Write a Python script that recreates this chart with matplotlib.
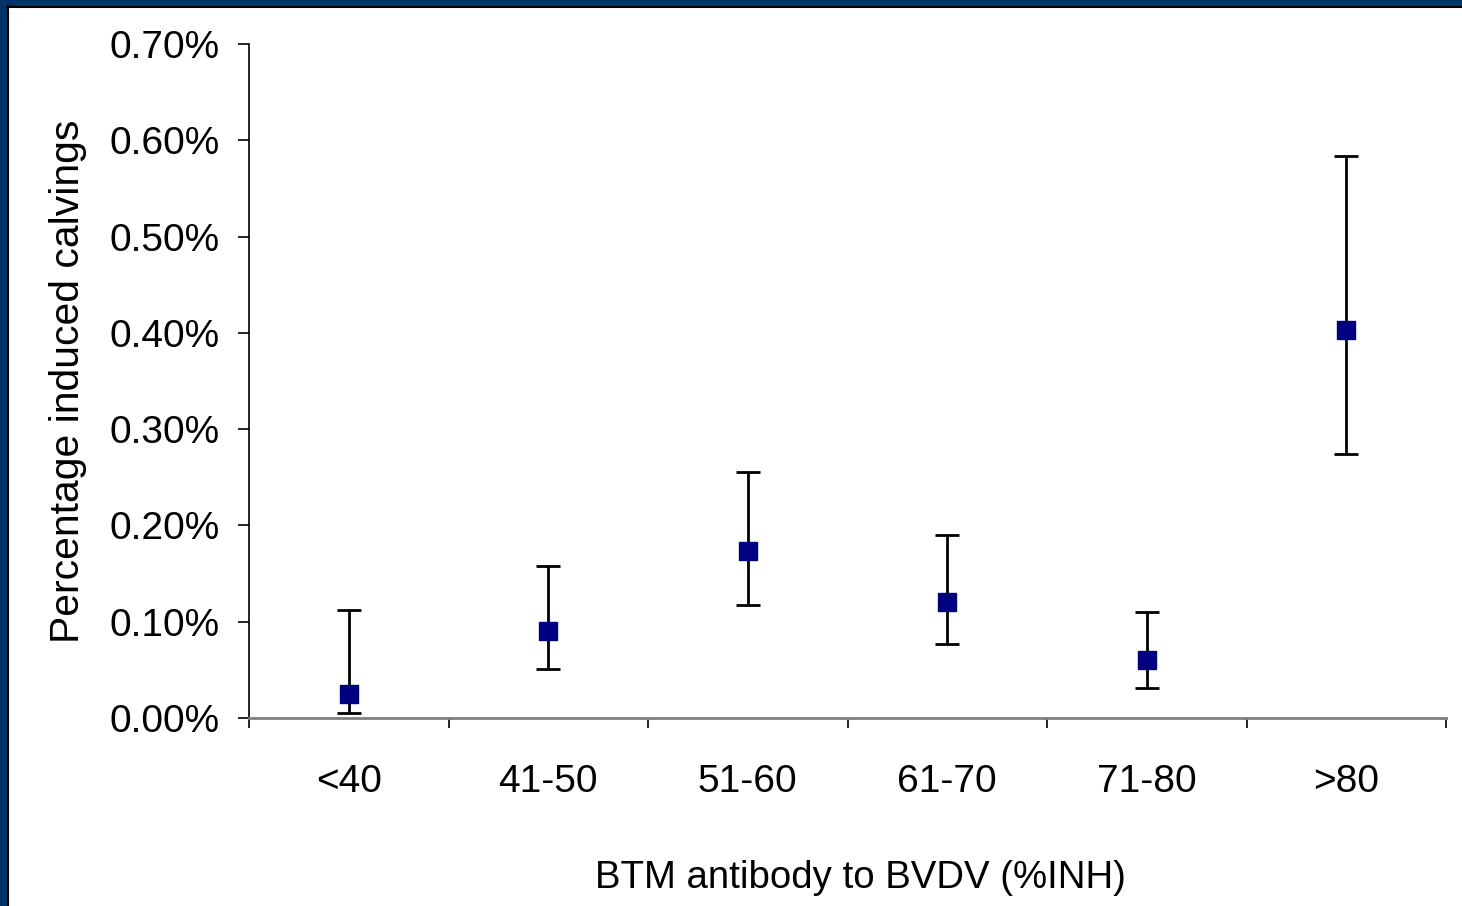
import matplotlib
matplotlib.use("Agg")
import matplotlib.pyplot as plt
from matplotlib.ticker import FuncFormatter
from matplotlib.patches import Rectangle

plt.rcParams['font.family'] = ['Liberation Sans', 'DejaVu Sans']

categories = ['<40', '41-50', '51-60', '61-70', '71-80', '>80']
pct = [0.025, 0.090, 0.173, 0.120, 0.060, 0.403]
upper = [0.112, 0.158, 0.256, 0.190, 0.110, 0.584]
lower = [0.005, 0.051, 0.117, 0.077, 0.031, 0.274]

fig = plt.figure(figsize=(14.62, 9.06), dpi=100)
# dark blue slide frame (top and left)
fig.patches.append(Rectangle((0, 1 - 6 / 906), 1, 6 / 906, transform=fig.transFigure,
                             color='#003366', zorder=0))
fig.patches.append(Rectangle((0, 0), 7 / 1462, 1, transform=fig.transFigure,
                             color='#003366', zorder=0))
fig.add_artist(plt.Line2D([7 / 1462, 1], [1 - 7 / 906] * 2, transform=fig.transFigure,
                          color='black', lw=1.5))
fig.add_artist(plt.Line2D([7.5 / 1462] * 2, [0, 1 - 6 / 906], transform=fig.transFigure,
                          color='black', lw=1.5))

ax = fig.add_axes([249 / 1462, 1 - 718 / 906, (1446 - 249) / 1462, (718 - 44) / 906])

x = list(range(len(categories)))
yerr = [[p - l for p, l in zip(pct, lower)], [u - p for p, u in zip(pct, upper)]]
ax.errorbar(x, pct, yerr=yerr, fmt='s', color='#000080', ms=13, mec='#000080',
            ecolor='black', elinewidth=2, capsize=8.5, capthick=2, zorder=3)

ax.set_xlim(-0.5, len(categories) - 0.5)
ax.set_ylim(0, 0.70)
ax.set_yticks([i / 10 for i in range(8)])
ax.yaxis.set_major_formatter(FuncFormatter(lambda v, _: f'{v:.2f}%'))
ax.set_xticks([i - 0.5 for i in range(len(categories) + 1)])
ax.set_xticklabels([])
ax.set_xticks(x, minor=True)
ax.set_xticklabels(categories, minor=True)
ax.tick_params(axis='x', which='major', length=7, width=1.2, direction='out', color='black')
ax.tick_params(axis='x', which='minor', length=0, pad=33, labelsize=28)
ax.tick_params(axis='y', length=8, width=1.2, labelsize=28, pad=13)

for s in ['top', 'right']:
    ax.spines[s].set_visible(False)
ax.spines['bottom'].set_color('#808080')
ax.spines['bottom'].set_linewidth(2)
ax.spines['left'].set_linewidth(1.2)

ax.set_xlabel('BTM antibody to BVDV (%INH)', fontsize=27.6, labelpad=43)
ax.xaxis.label.set_x(0.511)
ax.set_ylabel('Percentage induced calvings', fontsize=29.4, labelpad=16)

fig.savefig('out.png', dpi=100, facecolor='white')
